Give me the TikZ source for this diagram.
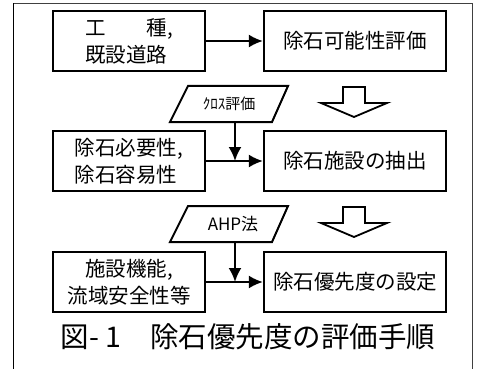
\documentclass[tikz,border=0pt]{standalone}
\usepackage{fontspec}
\setmainfont{Noto Sans CJK JP}
\usetikzlibrary{arrows.meta}
\begin{document}
\begin{tikzpicture}[x=1pt,y=-1pt,
  box/.style={draw, line width=2.2pt, inner sep=0pt, font=\fontsize{20.5}{27}\selectfont},
  lbox/.style={box, minimum width=152pt, minimum height=60pt},
  rbox/.style={box, minimum width=182pt, minimum height=60pt},
  para/.style={draw, line width=2pt, line join=miter},
  ptext/.style={inner sep=0pt, font=\fontsize{15}{18}\selectfont},
  arr/.style={line width=2.2pt, -{Latex[length=14pt,width=13pt]}},
  hollow/.style={draw, line width=1.8pt, line join=miter}]
\useasboundingbox (0,0) rectangle (485,369);
% frame
\draw[line width=1pt, black!75] (13.5,3.5) -- (472.5,3.5) -- (472.5,369);
\draw[line width=1.6pt, black] (13.5,369) -- (13.5,3.5);
% row 1
\node[lbox, align=left] (b1) at (129,41) {工　　種,\\既設道路};
\node[rbox] (b2) at (355,41) {除石可能性評価};
\draw[arr] (b1.east) -- (b2.west);
% row 1 -> 2
\draw[para] (170,122) -- (188,86) -- (288,86) -- (272,122) -- cycle;
\node[ptext] (p1) at (229,104) {ｸﾛｽ評価};
\coordinate (p1b) at (235,122);
\draw[hollow] (343,87) -- (365,87) -- (365,103) -- (387,103) -- (354,117) -- (321,103) -- (343,103) -- cycle;
% row 2
\node[lbox, align=left] (b3) at (129,161) {除石必要性,\\除石容易性};
\node[rbox] (b4) at (355,161) {除石施設の抽出};
\draw[arr] (b3.east) -- (b4.west);
\draw[arr] (p1b) -- (p1b |- b3.east);
% row 2 -> 3
\draw[para] (170,242) -- (188,206) -- (288,206) -- (272,242) -- cycle;
\node[ptext, font=\fontsize{17}{20}\selectfont] (p2) at (233,224) {AHP法};
\coordinate (p2b) at (235,242);
\draw[hollow] (343,207) -- (365,207) -- (365,223) -- (387,223) -- (354,237) -- (321,223) -- (343,223) -- cycle;
% row 3
\node[lbox, align=center] (b5) at (129,282) {施設機能,\\流域安全性等};
\node[rbox] (b6) at (355,282) {除石優先度の設定};
\draw[arr] (b5.east) -- (b6.west);
\draw[arr] (p2b) -- (p2b |- b5.east);
% caption
\node[inner sep=0pt, font=\fontsize{28.5}{31}\selectfont] (cap) at (248,337) {図- 1　除石優先度の評価手順};
\end{tikzpicture}
\end{document}
